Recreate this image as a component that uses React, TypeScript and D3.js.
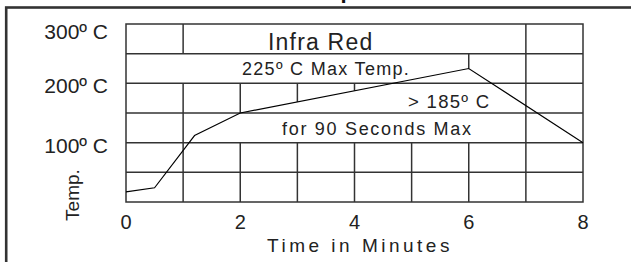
import React from "react";
import * as d3 from "d3";

// reflow profile: time (minutes) vs temperature (deg C)
const minutes = [0, 0.5, 1.2, 2, 6, 8];
const temps = [17, 24, 112, 150, 225, 100];

const yTicks = [100, 200, 300];
const xTicks = [0, 2, 4, 6, 8];

// grid is drawn like a table: each vertical line only spans some bands.
// "curve" means the segment stops where it meets the profile line
const vSegments: [number, number | "curve", number][] = [
  [1, 250, 300], [1, 0, 200],
  [2, 0, 100], [2, "curve", 200],
  [3, 0, 100], [3, "curve", 200],
  [4, 0, 100], [4, "curve", 200],
  [5, 0, 100],
  [6, 0, 100], [6, "curve", 250],
  [7, 0, 300],
];
const hLines = [50, 100, 150, 200, 250];

const width = 631, height = 262;
const x = d3.scaleLinear().domain([0, 8]).range([126, 583]);
const y = d3.scaleLinear().domain([0, 300]).range([202, 24]);

const tempAt = (t: number) => d3.scaleLinear().domain(minutes).range(temps)(t);

const font = "'Liberation Sans', Arial, Helvetica, sans-serif";
const ink = "#333";

export default function App() {
  const line = d3.line<number>()
    .x((d, i) => x(minutes[i]))
    .y(d => y(d));

  return (
    <svg width={width} height={height} style={{ position: "absolute", left: 0, top: 0 }}
      fontFamily={font}>
      <rect width={width} height={height} fill="white" />
      {/* cut-off title */}
      <text x={297} y={-2} fontSize={22} fontWeight="bold" fill="#111">Temperature Profile</text>
      {/* outer frame */}
      <rect x={6.2} y={7.5} width={700} height={400} fill="none" stroke={ink} strokeWidth={2.6} />

      {hLines.map(v => (
        <line key={"h" + v} x1={x(0)} x2={x(8)} y1={y(v)} y2={y(v)} stroke={ink} strokeWidth={1.5} />
      ))}
      {vSegments.map(([m, a, b], i) => {
        const from = a === "curve" ? tempAt(m) : a;
        return <line key={"v" + i} x1={x(m)} x2={x(m)} y1={y(from)} y2={y(b)} stroke={ink} strokeWidth={1.5} />;
      })}
      <rect x={x(0)} y={y(300)} width={x(8) - x(0)} height={y(0) - y(300)} fill="none" stroke={ink} strokeWidth={1.5} />

      <path d={line(temps) || ""} fill="none" stroke="#000" strokeWidth={1.1} />

      <text x={268} y={49.5} fontSize={23} letterSpacing={1.2} fill="#222">Infra Red</text>
      <text x={242} y={75} fontSize={18} letterSpacing={1.3} fill="#222">225º C Max Temp.</text>
      <text x={408} y={108.3} fontSize={18.5} letterSpacing={1.3} fill="#222">&gt; 185º C</text>
      <text x={282} y={135} fontSize={18} letterSpacing={1.7} fill="#222">for 90 Seconds Max</text>

      {yTicks.map(v => (
        <text key={"yt" + v} x={108} y={y(Math.min(v, 292)) + 10} fontSize={21} textAnchor="end" fill="#222">
          {v}º C
        </text>
      ))}
      {xTicks.map(v => (
        <text key={"xt" + v} x={x(v)} y={228.5} fontSize={20} textAnchor="middle" fill="#222">{v}</text>
      ))}
      <text x={360} y={252} fontSize={19} letterSpacing={3.5} textAnchor="middle" fill="#222">Time in Minutes</text>
      <text transform="translate(79,195) rotate(-90)" fontSize={19} textAnchor="middle" fill="#222">Temp.</text>
    </svg>
  );
}
